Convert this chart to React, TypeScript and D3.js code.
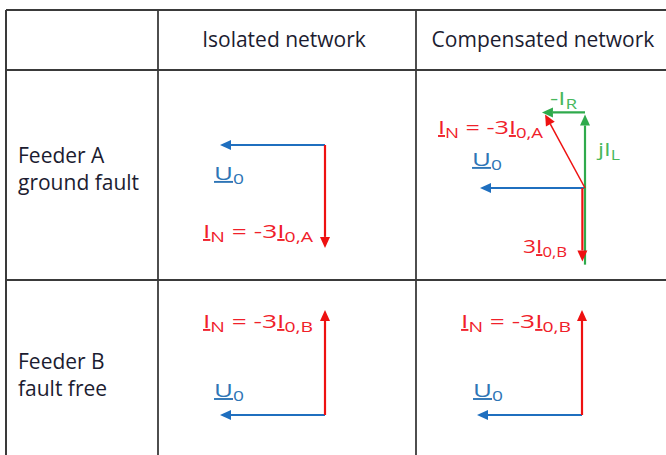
import * as d3 from "d3";

const WIDTH = 666;
const HEIGHT = 455;

const columnHeaders = ["", "Isolated network", "Compensated network"];
const rowHeaders = [
  ["Feeder A", "ground fault"],
  ["Feeder B", "fault free"],
];

// phasor end points, in units of |U0|, y pointing up
const isolatedFaulty = [
  { kind: "U", from: [0, 0], to: [-1, 0] },
  { kind: "I", from: [0, 0], to: [0, -0.98] },
];
const isolatedHealthy = [
  { kind: "U", from: [0, 0], to: [-1, 0] },
  { kind: "I", from: [0, 0], to: [0, 1] },
];
const compensatedFaulty = [
  { kind: "U", from: [0, 0], to: [-1, 0] },
  { kind: "L", from: [0, -0.73], to: [0, 0.7] },
  { kind: "L", from: [0, 0.72], to: [-0.41, 0.72] },
  { kind: "I", from: [-0.025, 0], to: [-0.025, -0.7] },
  { kind: "I", from: [0, 0], to: [-0.38, 0.7], thin: true },
];
const compensatedHealthy = [
  { kind: "U", from: [0, 0], to: [-1, 0] },
  { kind: "I", from: [0, 0], to: [0, 1] },
];

// label text: [text, style] where u = underlined phasor, s = subscript
const labelU0 = [["U", "u"], ["0", "s"]];
const labelINA = [["I", "u"], ["N", "s"], [" = -3", ""], ["I", "u"], ["0,A", "s"]];
const labelINB = [["I", "u"], ["N", "s"], [" = -3", ""], ["I", "u"], ["0,B", "s"]];
const labelIR = [["-I", ""], ["R", "s"]];
const labelIL = [["jI", ""], ["L", "s"]];
const label3I0B = [["3", ""], ["I", "u"], ["0,B", "s"]];

const colors = { U: "#1f6fbf", I: "#ee1111", L: "#2faa4c" };
const textColors = { U: "#2e75b6", I: "#f0202a", L: "#48b85c" };

const colEdges = [6, 158, 416, 676];
const rowEdges = [10, 70, 280, 470];
const unit = 105;

const panels = [
  {
    col: 1, row: 0, origin: [167, 75], phasors: isolatedFaulty,
    labels: [
      { parts: labelU0, kind: "U", at: [-1.057, -0.333], len: 30 },
      { parts: labelINA, kind: "I", at: [-1.162, -0.886], len: 110 },
    ],
  },
  {
    col: 2, row: 0, origin: [169, 118], phasors: compensatedFaulty,
    labels: [
      { parts: labelINA, kind: "I", at: [-1.4, 0.514], len: 105 },
      { parts: labelU0, kind: "U", at: [-1.076, 0.21], len: 30 },
      { parts: labelIR, kind: "L", at: [-0.333, 0.79], len: 27 },
      { parts: labelIL, kind: "L", at: [0.124, 0.305], len: 22 },
      { parts: label3I0B, kind: "I", at: [-0.59, -0.62], len: 44 },
    ],
  },
  {
    col: 1, row: 1, origin: [167, 135], phasors: isolatedHealthy,
    labels: [
      { parts: labelINB, kind: "I", at: [-1.162, 0.829], len: 110 },
      { parts: labelU0, kind: "U", at: [-1.057, 0.171], len: 30 },
    ],
  },
  {
    col: 2, row: 1, origin: [166, 135], phasors: compensatedHealthy,
    labels: [
      { parts: labelINB, kind: "I", at: [-1.152, 0.829], len: 110 },
      { parts: labelU0, kind: "U", at: [-1.038, 0.171], len: 30 },
    ],
  },
];

const FONT = "'Open Sans', 'DejaVu Sans', sans-serif";

function arrowHead(x1: number, y1: number, x2: number, y2: number) {
  const len = 11;
  const half = 5;
  const dx = x2 - x1;
  const dy = y2 - y1;
  const d = Math.hypot(dx, dy);
  const ux = dx / d;
  const uy = dy / d;
  const bx = x2 - ux * len;
  const by = y2 - uy * len;
  const path = d3.path();
  path.moveTo(x2, y2);
  path.lineTo(bx - uy * half, by + ux * half);
  path.lineTo(bx + uy * half, by - ux * half);
  path.closePath();
  return { head: path.toString(), bx, by };
}

function Label({ parts, x, y, color, len }) {
  const items = [];
  let shifted = false;
  parts.forEach(([t, s], i) => {
    let dy = 0;
    if (s === "s" && !shifted) {
      dy = 4;
      shifted = true;
    } else if (s !== "s" && shifted) {
      dy = -4;
      shifted = false;
    }
    items.push(
      <tspan
        key={i}
        dy={dy || undefined}
        fontSize={s === "s" ? 14 : 19}
        textDecoration={s === "u" ? "underline" : undefined}
      >
        {t}
      </tspan>
    );
  });
  return (
    <text x={x} y={y} fill={color} fontFamily={FONT} textLength={len} lengthAdjust="spacingAndGlyphs">
      {items}
    </text>
  );
}

export default function App() {
  const x = d3.scaleLinear().domain([0, 1]).range([0, unit]);
  const y = d3.scaleLinear().domain([0, 1]).range([0, -unit]);

  return (
    <div style={{ position: "fixed", left: 0, top: 0, background: "#fff" }}>
      <svg width={WIDTH} height={HEIGHT} style={{ display: "block" }}>
        <rect width={WIDTH} height={HEIGHT} fill="#fff" />

        {/* grid */}
        <g stroke="#3a3a3a" fill="none">
          <line x1={colEdges[0]} x2={WIDTH} y1={rowEdges[0]} y2={rowEdges[0]} strokeWidth={2} />
          {rowEdges.slice(1, 3).map((r) => (
            <line key={r} x1={colEdges[0]} x2={WIDTH} y1={r} y2={r} strokeWidth={1.8} />
          ))}
          {colEdges.slice(0, 3).map((c, i) => (
            <line key={c} x1={c} x2={c} y1={rowEdges[0]} y2={HEIGHT} strokeWidth={i === 0 ? 2 : 1.8} />
          ))}
        </g>

        {/* headers */}
        {columnHeaders.map((h, i) =>
          h ? (
            <text
              key={h}
              x={(colEdges[i] + colEdges[i + 1]) / 2 - 3}
              y={(rowEdges[0] + rowEdges[1]) / 2 + 7}
              textAnchor="middle"
              fontFamily={FONT}
              fontSize={21}
              fill="#1c1c30"
            >
              {h}
            </text>
          ) : null
        )}
        {rowHeaders.map((lines, i) => (
          <text key={i} fontFamily={FONT} fontSize={21} fill="#1c1c30">
            {lines.map((l, j) => (
              <tspan key={j} x={18} y={[163, 369][i] + j * 27}>
                {l}
              </tspan>
            ))}
          </text>
        ))}

        {/* phasor diagrams */}
        {panels.map((p, pi) => {
          const ox = colEdges[p.col] + p.origin[0];
          const oy = rowEdges[p.row + 1] + p.origin[1];
          return (
            <g key={pi} transform={`translate(${ox},${oy})`}>
              {p.phasors.map((ph, k) => {
                const x1 = x(ph.from[0]);
                const y1 = y(ph.from[1]);
                const x2 = x(ph.to[0]);
                const y2 = y(ph.to[1]);
                const { head, bx, by } = arrowHead(x1, y1, x2, y2);
                const c = colors[ph.kind];
                return (
                  <g key={k}>
                    <line x1={x1} y1={y1} x2={bx} y2={by} stroke={c} strokeWidth={ph.thin ? 1.5 : 2.2} />
                    <path d={head} fill={c} />
                  </g>
                );
              })}
              {p.labels.map((l, k) => (
                <Label
                  key={k}
                  parts={l.parts}
                  x={x(l.at[0])}
                  y={y(l.at[1])}
                  color={textColors[l.kind]}
                  len={l.len}
                />
              ))}
            </g>
          );
        })}
      </svg>
    </div>
  );
}
